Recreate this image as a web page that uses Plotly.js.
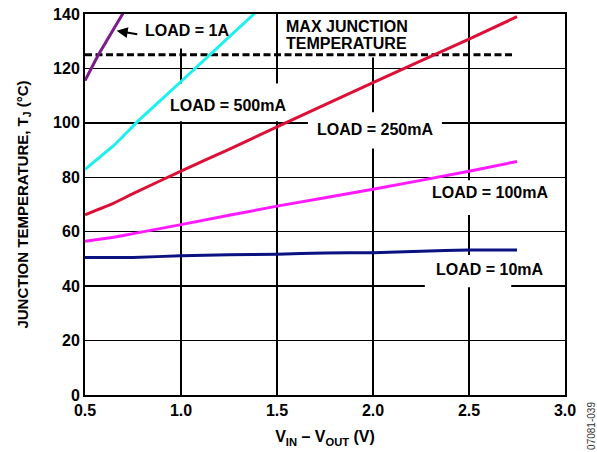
<!DOCTYPE html>
<html><head><meta charset="utf-8">
<script src="https://cdn.plot.ly/plotly-3.0.1.min.js"></script>
<style>html,body{margin:0;padding:0;background:#fff}#chart{width:597px;height:452px}</style>
</head><body><div id="chart"></div>
<script>
const x10 = [0.5, 0.6, 0.75, 1.0, 1.25, 1.5, 1.75, 2.0, 2.25, 2.5, 2.75];
const y10 = [50.5, 50.5, 50.5, 51.2, 51.5, 51.7, 52.2, 52.3, 52.8, 53.3, 53.3];
const x100 = [0.5, 0.65, 0.75, 1.0, 1.5, 2.0, 2.5, 2.75];
const y100 = [56.5, 58.0, 59.3, 62.6, 69.4, 75.6, 82.2, 85.8];
const x250 = [0.5, 0.65, 0.75, 1.0, 1.25, 1.5, 2.0, 2.5, 2.75];
const y250 = [66.2, 70.5, 74.0, 82.3, 90.3, 98.5, 114.8, 130.8, 139.0];
const x500 = [0.5, 0.65, 0.78, 1.0, 1.38, 1.42];
const y500 = [82.9, 91.7, 100.9, 115.2, 140.0, 142.6];
const x1A = [0.5, 0.57, 0.7];
const y1A = [115.5, 125.0, 140.5];
const xMax = [0.5, 2.74];
const yMax = [125, 125];
const xTicks = [0.5, 1.0, 1.5, 2.0, 2.5, 3.0];
const xTickText = ['0.5', '1.0', '1.5', '2.0', '2.5', '3.0'];
const yTicks = [0, 20, 40, 60, 80, 100, 120, 140];

const F = 'Liberation Sans, Arial, sans-serif';
function line(x, y, color, dash) {
  return {x: x, y: y, mode: 'lines', type: 'scatter', hoverinfo: 'skip',
    line: {color: color, width: 3, dash: dash || 'solid', shape: 'spline', smoothing: 0.3}};
}
const data = [
  line(xMax, yMax, '#000000', '7px,3.5px'),
  line(x10, y10, '#0a1180'),
  line(x100, y100, '#ff1aff'),
  line(x250, y250, '#dc1037'),
  line(x500, y500, '#1ef0f0'),
  line(x1A, y1A, '#7d1a8c')
];
function ann(text, x, y, opts) {
  return Object.assign({text: '<b>' + text + '</b>', x: x, y: y, xref: 'x', yref: 'y', showarrow: false,
    font: {family: F, size: 16, color: '#000'}}, opts || {});
}
function box(x0, x1, y0, y1) {
  return {type: 'rect', xref: 'x', yref: 'y', x0: x0, x1: x1, y0: y0, y1: y1,
    fillcolor: '#ffffff', line: {width: 0}, layer: 'between'};
}
const layout = {
  width: 597, height: 452,
  margin: {l: 85, r: 32, t: 14, b: 57},
  paper_bgcolor: '#ffffff', plot_bgcolor: '#ffffff',
  showlegend: false,
  font: {family: F, color: '#000'},
  xaxis: {range: [0.5, 3.0], tickvals: xTicks, ticktext: xTickText, showgrid: true, gridcolor: '#000', gridwidth: 1.5,
    showline: true, linecolor: '#000', linewidth: 2, mirror: true, zeroline: false, ticks: '',
    tickfont: {family: F, size: 16, color: '#000', weight: 'bold'},
    title: {text: '<b>V<sub>IN</sub> – V<sub>OUT</sub> (V)</b>', font: {family: F, size: 16, color: '#000'}, standoff: 13}},
  yaxis: {range: [0, 140], tickvals: yTicks, showgrid: true, gridcolor: '#000', gridwidth: 1.5,
    showline: true, linecolor: '#000', linewidth: 2, mirror: true, zeroline: false, ticks: '',
    tickfont: {family: F, size: 16, color: '#000', weight: 'bold'},
    title: {text: '<b>JUNCTION TEMPERATURE, T<sub>J</sub> (°C)</b>', font: {family: F, size: 15, color: '#000'}, standoff: 21}},
  shapes: [
    box(0.76, 1.28, 127.3, 140),
    box(1.52, 2.2, 124, 140),
    box(0.89, 1.594, 100.6, 114.5),
    box(1.661, 2.359, 90.6, 103.9),
    box(2.286, 2.932, 66.1, 78.9),
    box(2.27, 2.72, 39.6, 51.4)
  ],
  annotations: [
    ann('LOAD = 1A', 0.802, 134.0, {xanchor: 'left'}),
    {x: 0.665, y: 133.8, ax: 0.78, ay: 132.5, xref: 'x', yref: 'y', axref: 'x', ayref: 'y', text: '', showarrow: true,
      arrowhead: 2, arrowsize: 1.1, arrowwidth: 2, arrowcolor: '#000'},
    ann('MAX JUNCTION', 1.536, 135.4, {xanchor: 'left'}),
    ann('TEMPERATURE', 1.536, 129.2, {xanchor: 'left'}),
    ann('LOAD = 500mA', 1.245, 106.5),
    ann('LOAD = 250mA', 2.01, 97.6),
    ann('LOAD = 100mA', 2.61, 74.3),
    ann('LOAD = 10mA', 2.61, 46.3),
    {text: '07081-039', xref: 'paper', yref: 'paper', x: 1.055, y: -0.08, xanchor: 'center', yanchor: 'middle',
      showarrow: false, textangle: -90, font: {family: F, size: 10, color: '#333'}}
  ]
};
Plotly.newPlot('chart', data, layout, {displayModeBar: false, staticPlot: true});
</script></body></html>
